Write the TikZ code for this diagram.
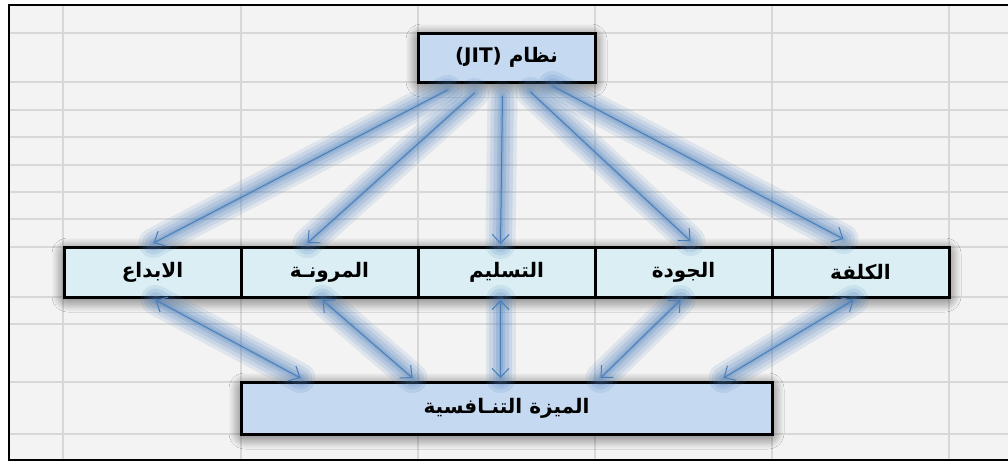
\documentclass[tikz,border=0pt]{standalone}
\usepackage{fontspec}
\newfontfamily\arabicfont[Script=Arabic]{DejaVu Sans}
\TeXXeTstate=1
\usepackage{xcolor}
\usetikzlibrary{arrows.meta, positioning, fit, backgrounds, shadows.blur}
\definecolor{jitfill}{RGB}{197, 217, 241}
\definecolor{factorfill}{RGB}{219, 238, 244}
\definecolor{linkblue}{RGB}{74, 126, 187}
\definecolor{cellgrid}{RGB}{216, 216, 216}
\definecolor{cellfill}{RGB}{243, 243, 243}

\begin{document}
\begin{tikzpicture}[
    x=1pt, y=-1pt,
    box/.style={rectangle, draw=black, line width=3pt, outer sep=0pt, inner sep=0pt,
                minimum height=50pt, align=center, font=\arabicfont\bfseries\fontsize{20}{24}\selectfont},
    jitbox/.style={box, fill=jitfill, minimum width=177pt, minimum height=49pt},
    factor/.style={box, fill=factorfill, minimum width=177pt},
    advbox/.style={box, fill=jitfill, minimum width=531pt, minimum height=52pt},
    boxshadow/.style={inner sep=-4pt, fill=gray!60, blur shadow={shadow xshift=0pt, shadow yshift=-3pt,
                      shadow blur radius=16pt, shadow blur steps=14, shadow opacity=90}},
    glow/.style={preaction={draw=linkblue, opacity=0.12, line width=30pt, line cap=round, -},
                 preaction={draw=linkblue, opacity=0.14, line width=23pt, line cap=round, -},
                 preaction={draw=linkblue, opacity=0.16, line width=16pt, line cap=round, -},
                 preaction={draw=linkblue, opacity=0.18, line width=9pt, line cap=round, -},
                 preaction={draw=linkblue, opacity=0.2, line width=4pt, line cap=round, -}},
    link/.style={glow, draw=linkblue, line width=1pt, -{Straight Barb[length=9pt, width=17pt]}},
    duallink/.style={glow, draw=linkblue, line width=1pt, {Straight Barb[length=9pt, width=17pt]}-{Straight Barb[length=9pt, width=17pt]}}
]
\useasboundingbox (0,0) rectangle (1008,463);

% Sheet cells
\begin{scope}[on background layer]
\fill[white] (0,0) rectangle (1008,463);
\fill[cellfill] (9,5) rectangle (1008,460);
\foreach \gx in {63,241,418,595,772,949}
    \draw[cellgrid, line width=1.3pt] (\gx,5) -- (\gx,460);
\foreach \gy in {33,82,110,137,165,192,219,247,297,324,382,434}
    \draw[cellgrid, line width=1.3pt] (9,\gy) -- (1008,\gy);
\draw[line width=2.5pt] (1008,5) -- (9,5) -- (9,460) -- (1008,460);
\end{scope}

% JIT system (top)
\node[jitbox] (jit) at (506.5,57.5) {\beginR نظام \beginL(JIT)\endL\endR};

% Factors row
\node[factor] (tasleem) at (506.5,272) {\beginR التسليم\endR};
\node[factor, left=0pt of tasleem] (murona) {\beginR المرونـة\endR};
\node[factor, left=0pt of murona] (ibdaa) {\beginR الابداع\endR};
\node[factor, right=0pt of tasleem] (jawda) {\beginR الجودة\endR};
\node[factor, right=0pt of jawda] (kulfa) {\beginR الكلفة\endR};

% Competitive advantage (bottom)
\node[advbox] (mizah) at (506.5,408) {\beginR الميزة التنـافسية\endR};

% Shadows behind the boxes
\begin{scope}[on background layer]
\node[boxshadow, fit=(jit)] {};
\node[boxshadow, fit=(ibdaa)(kulfa)] {};
\node[boxshadow, fit=(mizah)] {};
\end{scope}

% JIT to factors
\draw[link] ([xshift=-59pt, yshift=-8pt]jit.south) to ([xshift=1pt, yshift=4pt]ibdaa.north);
\draw[link] ([xshift=-32pt, yshift=-11pt]jit.south) to ([xshift=-22pt, yshift=4pt]murona.north);
\draw[link] ([xshift=-4pt, yshift=-14pt]jit.south) to ([xshift=-6pt, yshift=3pt]tasleem.north);
\draw[link] ([xshift=24pt, yshift=-10pt]jit.south) to ([xshift=7pt, yshift=6pt]jawda.north);
\draw[link] ([xshift=46pt, yshift=-4pt]jit.south) to ([xshift=-17pt, yshift=8pt]kulfa.north);

% Factors to competitive advantage
\draw[duallink] ([xshift=3pt, yshift=-3pt]ibdaa.south) to ([xshift=-206pt, yshift=4pt]mizah.north);
\draw[duallink] ([xshift=-7pt, yshift=-3pt]murona.south) to ([xshift=-94pt, yshift=4pt]mizah.north);
\draw[duallink] ([xshift=-6pt, yshift=-3pt]tasleem.south) to ([xshift=-6pt, yshift=4pt]mizah.north);
\draw[duallink] ([xshift=-3pt, yshift=-3pt]jawda.south) to ([xshift=94pt, yshift=4pt]mizah.north);
\draw[duallink] ([xshift=-7pt, yshift=-3pt]kulfa.south) to ([xshift=217pt, yshift=4pt]mizah.north);

\end{tikzpicture}
\end{document}
